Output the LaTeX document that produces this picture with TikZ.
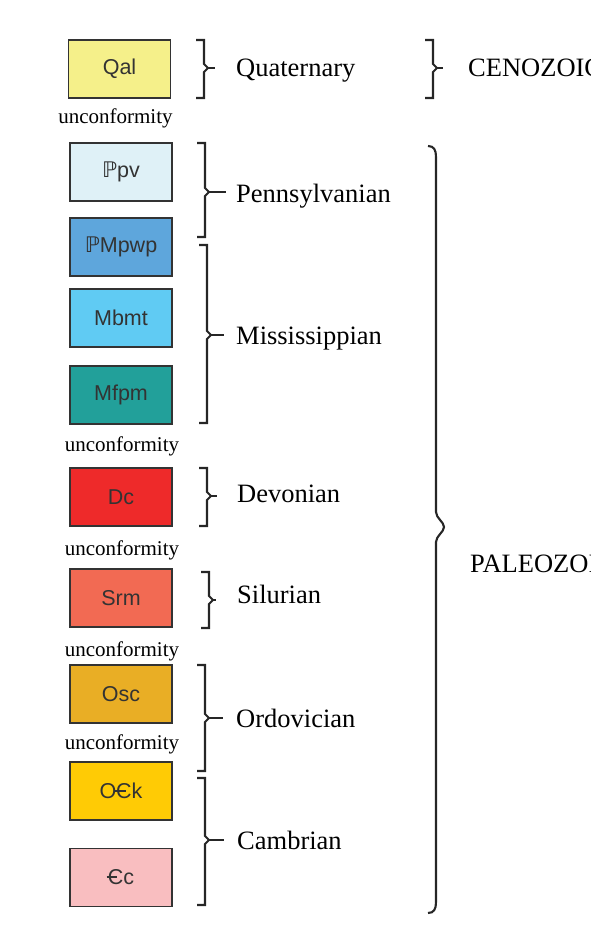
\documentclass[tikz,border=0pt]{standalone}
\usepackage{fontspec}
\setmainfont{Liberation Serif}
\setsansfont{Liberation Sans}
\newfontfamily\djvfont{DejaVu Sans}
\newcommand\pennP{{\djvfont\char"2119}}
\newcommand\cambC{\makebox[0pt][l]{\kern-0.06em\rule[0.32em]{0.5em}{0.075em}}C}
\definecolor{cQal}{HTML}{F5F08A}
\definecolor{cPpv}{HTML}{DFF1F7}
\definecolor{cPMpwp}{HTML}{5EA6DC}
\definecolor{cMbmt}{HTML}{60CBF3}
\definecolor{cMfpm}{HTML}{22A09A}
\definecolor{cDc}{HTML}{EE2A2A}
\definecolor{cSrm}{HTML}{F26A53}
\definecolor{cOsc}{HTML}{E9AE25}
\definecolor{cOCk}{HTML}{FFCB05}
\definecolor{cCc}{HTML}{F9BEC0}
\tikzset{
  unitbox/.style={draw=black!80, line width=1.3pt, minimum width=102pt, minimum height=58pt, inner sep=0pt, font=\sffamily\fontsize{21.5}{24}\selectfont, text=black!80},
  periodlbl/.style={anchor=base west, inner sep=0pt, font=\fontsize{26.5}{29}\selectfont},
  unconlbl/.style={anchor=base, inner sep=0pt, font=\fontsize{21}{23}\selectfont},
  brk/.style={line width=2.1pt, draw=black!85, line join=miter}
}
\newcommand\geobr[5]{%
  \draw[brk] (#1-8,#2) -- (#1,#2) -- (#1,#4-4) -- (#1+4,#4) -- (#1,#4+4) -- (#1,#3) -- (#1-8,#3);
  \draw[brk] (#1+4,#4) -- (#5,#4);}
\begin{document}
\begin{tikzpicture}[x=1pt,y=-1pt]
\useasboundingbox (0,0) rectangle (591,944);
\clip (0,0) rectangle (591,944);
% unit boxes
\node[unitbox, fill=cQal] (qal) at (119.5,69) {Qal};
\node[unitbox, fill=cPpv] (ppv) at (121,172) {\pennP pv};
\node[unitbox, fill=cPMpwp] (pmpwp) at (121,247) {\pennP Mpwp};
\node[unitbox, fill=cMbmt] (mbmt) at (121,318) {Mbmt};
\node[unitbox, fill=cMfpm] (mfpm) at (121,395) {Mfpm};
\node[unitbox, fill=cDc] (dc) at (121,497) {Dc};
\node[unitbox, fill=cSrm] (srm) at (121,598) {Srm};
\node[unitbox, fill=cOsc] (osc) at (121,694) {Osc};
\node[unitbox, fill=cOCk] (ock) at (121,791) {O\cambC k};
\node[unitbox, fill=cCc] (cc) at (121,877.5) {\cambC c};
% unconformities
\node[unconlbl] (u1) at (115.5,124) {unconformity};
\node[unconlbl] (u2) at (122,451) {unconformity};
\node[unconlbl] (u3) at (122,555) {unconformity};
\node[unconlbl] (u4) at (122,656) {unconformity};
\node[unconlbl] (u5) at (122,749) {unconformity};
% period brackets
\geobr{204}{40}{98}{68}{215}
\geobr{205}{143}{237}{192}{226}
\geobr{207}{245}{423}{335}{224}
\geobr{207}{468}{526}{496}{217}
\geobr{209}{572}{628}{600}{216}
\geobr{205}{665}{771}{718}{223}
\geobr{205}{778}{905}{840}{224}
% period labels
\node[periodlbl] (quat) at (236,77) {Quaternary};
\node[periodlbl] (penn) at (236,202) {Pennsylvanian};
\node[periodlbl] (miss) at (236,344) {Mississippian};
\node[periodlbl] (dev) at (237,502) {Devonian};
\node[periodlbl] (sil) at (237,603) {Silurian};
\node[periodlbl] (ord) at (236,727) {Ordovician};
\node[periodlbl] (camb) at (237,849) {Cambrian};
% era brackets
\geobr{433}{40}{98}{68}{443}
\draw[brk] (428,146) .. controls (434,146) and (436,150) .. (436,157) -- (436,512) .. controls (436,518) and (444,522) .. (444,527) .. controls (444,532) and (436,536) .. (436,542) -- (436,902) .. controls (436,909) and (434,913) .. (428,913);
\node[periodlbl] (ceno) at (468,77) {CENOZOIC};
\node[periodlbl] (paleo) at (470,572) {PALEOZOIC};
\end{tikzpicture}
\end{document}
